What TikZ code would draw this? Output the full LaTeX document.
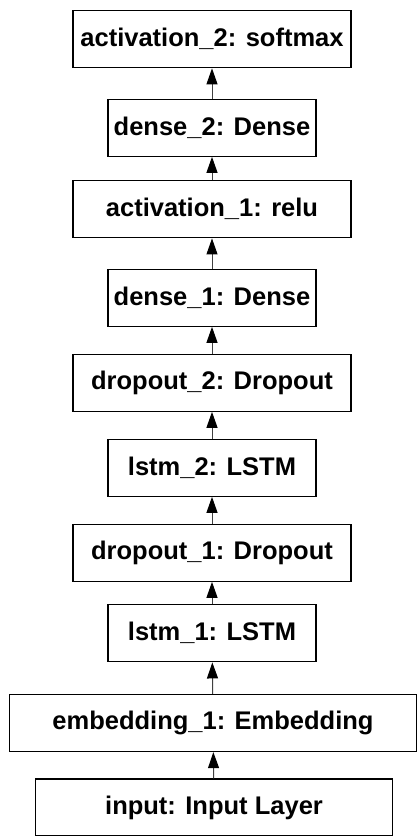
\documentclass[tikz,border=0pt]{standalone}
\usepackage{fontspec}
\setmainfont{Liberation Sans}
\usetikzlibrary{arrows.meta}

\begin{document}
\begin{tikzpicture}[x=1pt,y=-1pt,
    layer/.style={draw, line width=1.3pt, minimum height=57pt, inner sep=0pt,
        font=\fontsize{25.5}{30}\selectfont\bfseries},
    wide/.style={layer, minimum width=278pt},
    narrow/.style={layer, minimum width=208pt},
    flow/.style={-{Triangle[length=16pt,width=11pt,color=black]}, line width=1pt, draw=black!75}]

    \useasboundingbox (0,0) rectangle (417,836);

    % \node[wide] (act3) at (212,0) {};

    \node[wide] (act2) at (212,39.2) {activation\_2: softmax};
    \node[narrow] (dense2) at (212,127.7) {dense\_2: Dense};
    \node[wide] (act1) at (212,209.3) {activation\_1: relu};
    \node[narrow] (dense1) at (212,297.7) {dense\_1: Dense};
    \node[wide] (drop2) at (212,382.7) {dropout\_2: Dropout};
    \node[narrow] (lstm2) at (212,467.7) {lstm\_2: LSTM};
    \node[wide] (drop1) at (212,552.7) {dropout\_1: Dropout};
    \node[narrow] (lstm1) at (212,633.3) {lstm\_1: LSTM};
    \node[layer, minimum width=407pt] (embed) at (213,723) {embedding\_1: Embedding};
    \node[layer, minimum width=356.6pt] (input) at (214,807.5) {input: Input Layer};

    \draw[flow] (input) -- (embed);
    \draw[flow] (embed) -- (lstm1);
    \draw[flow] (lstm1) -- (drop1);
    \draw[flow] (drop1) -- (lstm2);
    \draw[flow] (lstm2) -- (drop2);
    \draw[flow] (drop2) -- (dense1);
    \draw[flow] (dense1) -- (act1);
    \draw[flow] (act1) -- (dense2);
    \draw[flow] (dense2) -- (act2);
    \end{tikzpicture}
\end{document}
